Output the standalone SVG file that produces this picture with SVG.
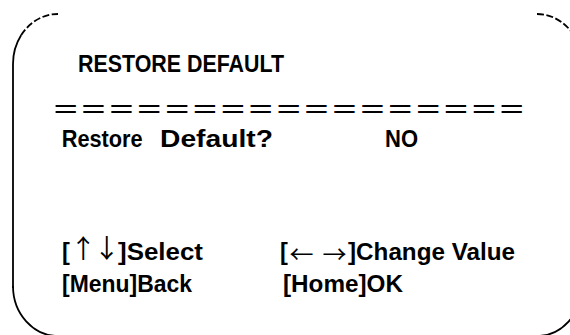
<svg xmlns="http://www.w3.org/2000/svg" width="570" height="335" viewBox="0 0 570 335">
<style>
.b{fill:none;stroke:#000;stroke-width:1.8;stroke-linecap:butt}
.d{stroke-dasharray:7 2.5}
.t{font-family:"Liberation Sans",Arial,sans-serif;font-weight:bold;font-size:23.5px;fill:#000}
.a{font-family:"Noto Sans CJK SC",sans-serif;font-weight:normal;font-size:26px;fill:#000}
.h{font-family:"Noto Sans CJK SC",sans-serif;font-weight:normal;font-size:24px;fill:#000}
.eq{font-family:"Noto Sans CJK SC",sans-serif;font-size:28px;fill:#000}
</style>
<rect width="570" height="335" fill="#fff"/>
<g id="frame">
<path class="b" d="M13,288 L13,64 A45,50 0 0 1 21.1,35.3"/>
<path class="b d" d="M21.1,35.3 A45,50 0 0 1 58,14"/>
<path class="b" d="M13,286 A45,50 0 0 0 58,336"/>
<path class="b d" d="M537,14 A45,50 0 0 1 582,64"/>
<path class="b" d="M582,286 A45,50 0 0 1 537,336"/>
</g>
<g id="title">
<text class="t" x="78" y="71.5" textLength="206" lengthAdjust="spacingAndGlyphs">RESTORE DEFAULT</text>
</g>
<g id="rule">
<text class="eq" x="51.7" y="120" textLength="474" lengthAdjust="spacingAndGlyphs">＝＝＝＝＝＝＝＝＝＝＝＝＝＝＝＝＝</text>
</g>
<g id="restore-row">
<text class="t" x="61.7" y="147" textLength="81" lengthAdjust="spacingAndGlyphs">Restore</text>
<text class="t" x="160" y="147" textLength="113" lengthAdjust="spacingAndGlyphs">Default?</text>
<text class="t" x="385" y="147" textLength="33" lengthAdjust="spacingAndGlyphs">NO</text>
</g>
<g id="help">
<text class="t" x="62" y="259.5">[</text>
<text class="a" x="83.3" y="258" text-anchor="middle">↑</text>
<text class="a" x="106.7" y="258" text-anchor="middle">↓</text>
<text class="t" x="118" y="259.5" textLength="85" lengthAdjust="spacingAndGlyphs">]Select</text>
<text class="t" x="280" y="259.5">[</text>
<text class="h" x="301.5" y="263" text-anchor="middle">←</text>
<text class="h" x="334.5" y="263" text-anchor="middle">→</text>
<text class="t" x="348" y="259.5" textLength="167" lengthAdjust="spacingAndGlyphs">]Change Value</text>
<text class="t" x="62" y="291.5" textLength="130" lengthAdjust="spacingAndGlyphs">[Menu]Back</text>
<text class="t" x="283" y="291.5" textLength="120" lengthAdjust="spacingAndGlyphs">[Home]OK</text>
</g>
</svg>
